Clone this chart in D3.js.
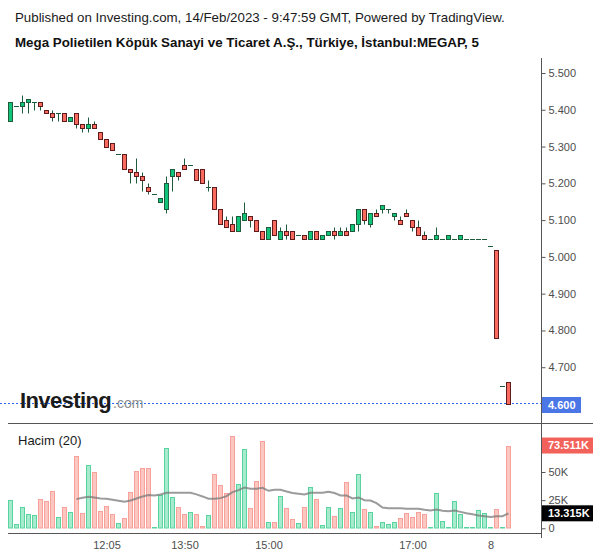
<!DOCTYPE html>
<html>
<head>
<meta charset="utf-8">
<script src="https://cdn.jsdelivr.net/npm/d3@7"></script>
<style>
  html, body { margin: 0; padding: 0; background: #fff; }
  svg { display: block; font-family: "Liberation Sans", Arial, sans-serif; }
</style>
</head>
<body>
<svg id="chart" width="600" height="558"></svg>
<script>
// ---- data (5-minute bars, MEGAP) ----
const open  = [5.37,5.41,5.41,5.42,5.42,5.42,5.40,5.39,5.39,5.39,5.37,5.39,5.36,5.35,5.36,5.34,5.32,5.31,5.28,5.28,
               5.24,5.23,5.22,5.19,5.17,5.15,5.13,5.22,5.23,5.25,5.25,5.24,5.24,5.19,5.19,5.13,5.10,5.09,5.07,5.10,
               5.11,5.10,5.07,5.05,5.10,5.05,5.07,5.07,5.06,5.06,5.05,5.07,5.05,5.06,5.07,5.06,5.07,5.07,5.09,5.13,
               5.09,5.12,5.13,5.13,5.11,5.10,5.12,5.10,5.08,5.06,5.05,5.05,5.05,5.05,5.05,5.05,5.05,5.05,5.05,5.05,
               5.03,5.02,4.65,4.66];
const high  = [5.42,5.41,5.44,5.43,5.42,5.42,5.40,5.40,5.39,5.39,5.38,5.39,5.36,5.38,5.37,5.34,5.32,5.31,5.28,5.28,
               5.24,5.27,5.23,5.20,5.17,5.16,5.22,5.24,5.23,5.27,5.25,5.24,5.24,5.21,5.19,5.13,5.11,5.11,5.11,5.15,
               5.11,5.10,5.07,5.08,5.10,5.08,5.09,5.07,5.06,5.06,5.07,5.07,5.06,5.07,5.08,5.08,5.08,5.09,5.13,5.13,
               5.12,5.13,5.14,5.13,5.12,5.11,5.13,5.10,5.10,5.07,5.05,5.08,5.05,5.06,5.05,5.06,5.05,5.05,5.05,5.05,
               5.03,5.02,4.65,4.66];
const low   = [5.37,5.41,5.39,5.39,5.40,5.40,5.39,5.37,5.37,5.37,5.37,5.35,5.34,5.34,5.35,5.32,5.30,5.29,5.28,5.24,
               5.20,5.20,5.18,5.17,5.17,5.15,5.12,5.18,5.21,5.24,5.25,5.21,5.20,5.18,5.13,5.09,5.08,5.07,5.07,5.10,
               5.08,5.07,5.05,5.05,5.06,5.05,5.05,5.05,5.06,5.05,5.05,5.05,5.05,5.06,5.05,5.06,5.06,5.07,5.07,5.09,
               5.08,5.11,5.12,5.12,5.10,5.09,5.11,5.07,5.06,5.05,5.05,5.05,5.05,5.05,5.05,5.05,5.05,5.05,5.05,5.05,
               5.03,4.78,4.65,4.60];
const close = [5.42,5.41,5.42,5.43,5.42,5.41,5.39,5.38,5.39,5.37,5.38,5.36,5.35,5.36,5.35,5.32,5.30,5.29,5.28,5.24,
               5.23,5.22,5.21,5.18,5.17,5.16,5.20,5.24,5.22,5.24,5.25,5.21,5.20,5.19,5.13,5.09,5.08,5.07,5.11,5.12,
               5.10,5.07,5.05,5.08,5.06,5.07,5.06,5.05,5.06,5.05,5.07,5.05,5.06,5.07,5.06,5.07,5.06,5.09,5.13,5.10,
               5.12,5.11,5.14,5.13,5.12,5.09,5.11,5.08,5.06,5.05,5.05,5.06,5.05,5.06,5.05,5.06,5.05,5.05,5.05,5.05,
               5.03,4.78,4.65,4.60];
// volume in thousands
const volume = [25.3,3.6,18.8,12.5,11.6,26.2,24.4,33.3,9.8,18.8,14.3,64.6,13.4,56.5,50.0,15.2,19.6,12.5,4.5,8.9,
                32.4,50.9,53.6,53.6,0.3,29.8,71.4,27.7,18.8,12.5,14.6,12.5,2.1,11.6,48.5,38.7,31.0,82.4,39.6,70.5,
                18.2,42.3,77.1,5.7,5.7,28.6,17.9,8.3,4.5,18.8,36.6,25.9,2.7,18.8,10.7,17.9,41.1,14.3,48.2,17.0,
                14.3,1.8,5.4,3.6,5.4,8.9,13.4,9.8,14.3,12.5,0.3,31.5,6.3,0.3,24.4,12.5,0.3,0.3,16.1,13.4,
                0.3,17.0,0.3,73.511];
// 20-period volume average, starting at bar 11
const maStart = 11;
const volumeMA = [25.9,27.1,28.0,27.4,26.5,26.2,25.3,24.4,23.5,24.7,
                  26.5,28.3,29.5,29.2,30.1,31.5,31.5,31.5,31.5,31.5,
                  30.1,28.3,26.2,26.2,26.8,28.6,32.1,33.9,36.3,35.1,
                  35.1,36.0,33.3,34.2,34.2,32.7,31.3,30.7,30.1,31.5,
                  31.5,31.5,32.4,31.3,29.2,29.2,26.5,27.4,25.0,24.7,
                  22.3,18.5,17.9,17.9,17.9,17.3,17.3,17.3,16.4,15.8,
                  16.7,15.5,15.2,15.8,14.6,13.4,12.5,11.3,10.7,10.1,
                  10.7,10.7,13.315];
const timeTickIndex  = [16, 29, 43, 67, 80];
const timeTickLabels = ["12:05", "13:50", "15:00", "17:00", "8"];
const priceTicks  = [4.7, 4.8, 4.9, 5.0, 5.1, 5.2, 5.3, 5.4, 5.5];
const volumeTicks = [0, 25, 50];
const lastPrice = 4.60;
const lastVolume = 73.511;
const lastMA = 13.315;

// ---- layout ----
const svg = d3.select("#chart");
const axisX = 541;
const n = open.length;
const x = d3.scaleLinear().domain([0, n - 1]).range([10.5, 10.5 + 6 * (n - 1)]);
const y = d3.scaleLinear().domain([4.6, 5.5]).range([404, 73]);
const yv = d3.scaleLinear().domain([0, 50]).range([528.3, 472]);
const crisp = v => Math.round(v) + 0.5;

const UP_FILL = "#12c47a", UP_LINE = "#1d5b3a";
const DN_FILL = "#fa6a5e", DN_LINE = "#5e1b1b";
const WICK = "#1d5b3a";
const AXIS = "#555";
const LABEL = "#4d4d4d";

// header
svg.append("text").attr("x", 15).attr("y", 22)
  .attr("font-size", 13.3).attr("fill", "#1a1a1a")
  .text("Published on Investing.com, 14/Feb/2023 - 9:47:59 GMT, Powered by TradingView.");
svg.append("text").attr("x", 15).attr("y", 47)
  .attr("font-size", 13.35).attr("font-weight", "bold").attr("fill", "#111")
  .text("Mega Polietilen Köpük Sanayi ve Ticaret A.Ş., Türkiye, İstanbul:MEGAP, 5");

// last price dotted line
svg.append("line").attr("x1", 0).attr("x2", axisX)
  .attr("y1", crisp(y(lastPrice)) - 1).attr("y2", crisp(y(lastPrice)) - 1)
  .attr("stroke", "#2d66f0").attr("stroke-width", 1).attr("stroke-dasharray", "2,2");

// watermark logo
const logo = svg.append("g");
logo.append("text").attr("x", 20).attr("y", 408)
  .attr("font-size", 22).attr("font-weight", "bold").attr("letter-spacing", -0.6)
  .attr("fill", "#1b1b1b").text("Investing");
logo.append("text").attr("x", 113).attr("y", 408)
  .attr("font-size", 14).attr("fill", "#8c8c8c").text(".com");

// candles
const idx = d3.range(n);
const candles = svg.append("g");
candles.selectAll("line.wick").data(idx.filter(i => high[i] > low[i])).join("line")
  .attr("class", "wick")
  .attr("x1", i => x(i)).attr("x2", i => x(i))
  .attr("y1", i => crisp(y(high[i]))).attr("y2", i => crisp(y(low[i])))
  .attr("stroke", WICK).attr("stroke-width", 1);
candles.selectAll("rect.body").data(idx.filter(i => open[i] !== close[i])).join("rect")
  .attr("class", "body")
  .attr("x", i => x(i) - 2).attr("width", 4)
  .attr("y", i => crisp(y(Math.max(open[i], close[i]))))
  .attr("height", i => crisp(y(Math.min(open[i], close[i]))) - crisp(y(Math.max(open[i], close[i]))))
  .attr("fill", i => close[i] > open[i] ? UP_FILL : DN_FILL)
  .attr("stroke", i => close[i] > open[i] ? UP_LINE : DN_LINE)
  .attr("stroke-width", 1);
candles.selectAll("line.doji").data(idx.filter(i => open[i] === close[i])).join("line")
  .attr("class", "doji")
  .attr("x1", i => x(i) - 2.5).attr("x2", i => x(i) + 2.5)
  .attr("y1", i => crisp(y(open[i]))).attr("y2", i => crisp(y(open[i])))
  .attr("stroke", WICK).attr("stroke-width", 1);

// volume bars
const vol = svg.append("g");
vol.selectAll("rect").data(idx).join("rect")
  .attr("x", i => x(i) - 2).attr("width", 4)
  .attr("y", i => Math.min(crisp(yv(volume[i])), 527.5))
  .attr("height", i => Math.max(0.5, 528 - Math.min(crisp(yv(volume[i])), 527.5)))
  .attr("fill", i => close[i] >= open[i] ? "#a6ebcd" : "#fcc6c1")
  .attr("stroke", i => close[i] >= open[i] ? "#5ad49e" : "#f7a19a")
  .attr("stroke-width", 1);

// volume MA
const maLine = d3.line().x((d, k) => x(maStart + k)).y(d => yv(d));
svg.append("path").datum(volumeMA)
  .attr("d", maLine).attr("fill", "none")
  .attr("stroke", "#7a7a7a").attr("stroke-opacity", 0.75).attr("stroke-width", 2);

svg.append("text").attr("x", 18).attr("y", 445)
  .attr("font-size", 13).attr("fill", "#1a1a1a").text("Hacim (20)");

// frame lines
svg.append("line").attr("x1", 8).attr("x2", 593).attr("y1", 423.5).attr("y2", 423.5)
  .attr("stroke", AXIS).attr("stroke-width", 1);
svg.append("line").attr("x1", 8).attr("x2", axisX).attr("y1", 533.5).attr("y2", 533.5)
  .attr("stroke", AXIS).attr("stroke-width", 1);
svg.append("line").attr("x1", axisX + 0.5).attr("x2", axisX + 0.5).attr("y1", 58).attr("y2", 538)
  .attr("stroke", AXIS).attr("stroke-width", 1);

// price axis
const pAxis = svg.append("g").attr("transform", `translate(${axisX + 0.5},0)`)
  .call(d3.axisRight(y).tickValues(priceTicks).tickFormat(d3.format(".3f")).tickSize(4).tickPadding(3));
pAxis.select(".domain").remove();
pAxis.selectAll("line").attr("stroke", AXIS);
pAxis.selectAll("text").attr("font-size", 11).attr("fill", LABEL)
  .attr("font-family", "'Liberation Sans', Arial, sans-serif");

// volume axis
const vAxis = svg.append("g").attr("transform", `translate(${axisX + 0.5},0)`)
  .call(d3.axisRight(yv).tickValues(volumeTicks).tickFormat(d => d === 0 ? "0" : d + "K").tickSize(4).tickPadding(3));
vAxis.select(".domain").remove();
vAxis.selectAll("line").attr("stroke", AXIS);
vAxis.selectAll("text").attr("font-size", 11).attr("fill", LABEL)
  .attr("font-family", "'Liberation Sans', Arial, sans-serif");

// time axis
const tAxis = svg.append("g").attr("transform", "translate(0,533.5)")
  .call(d3.axisBottom(x).tickValues(timeTickIndex).tickFormat((d, k) => timeTickLabels[k]).tickSize(0).tickPadding(8));
tAxis.select(".domain").remove();
tAxis.selectAll("text").attr("font-size", 11).attr("fill", LABEL)
  .attr("font-family", "'Liberation Sans', Arial, sans-serif");

// value boxes
function valueBox(val, text, color, w) {
  const g = svg.append("g");
  g.append("rect").attr("x", axisX + 1).attr("y", val - 8).attr("width", w).attr("height", 16).attr("fill", color);
  g.append("text").attr("x", axisX + 7).attr("y", val).attr("dy", "0.35em")
    .attr("font-size", 11).attr("font-weight", "bold").attr("fill", "#fff").text(text);
}
valueBox(y(lastPrice) + 1, d3.format(".3f")(lastPrice), "#4a76e6", 39);
valueBox(yv(lastVolume), d3.format(".3f")(lastVolume) + "K", "#f2615a", 51);
valueBox(yv(lastMA), d3.format(".3f")(lastMA) + "K", "#000", 51);
</script>
</body>
</html>
